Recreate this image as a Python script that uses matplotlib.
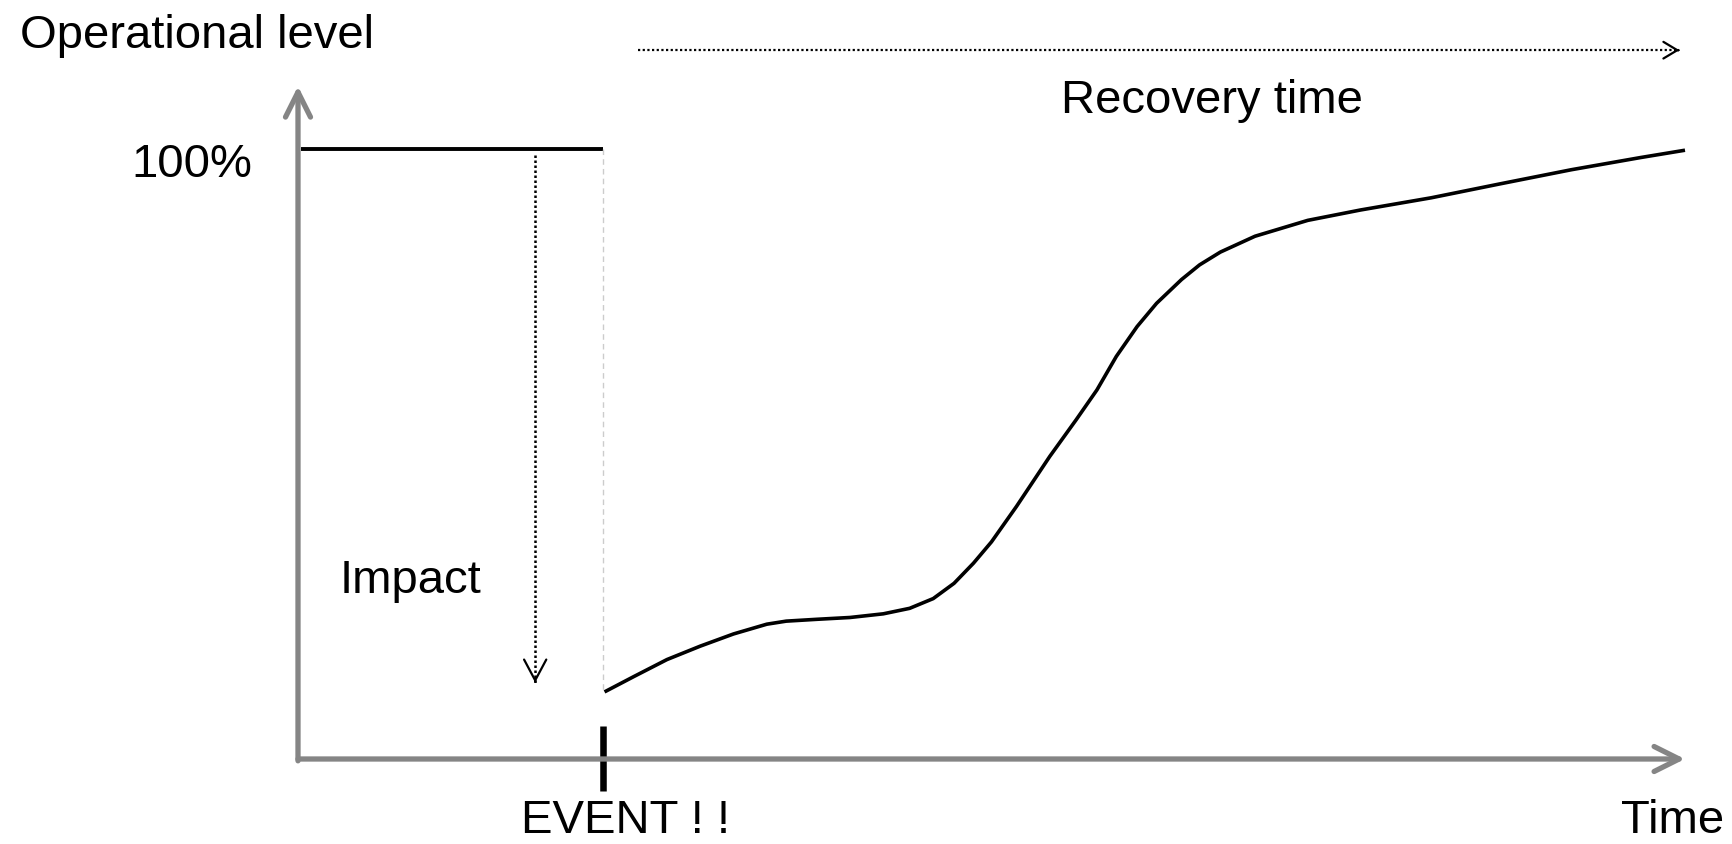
import matplotlib
matplotlib.use("Agg")
import matplotlib.pyplot as plt

plt.rcParams['font.family'] = ['Liberation Sans', 'DejaVu Sans']

# --- data (time in arbitrary units, operational level in %) ---
event_time = 2.2
full_level = 100

# level before the event
before_time = [0.02, event_time]
before_level = [full_level, full_level]

# recovery curve after the event
recovery_time = [2.21, 2.42, 2.66, 2.90, 3.14, 3.38, 3.52, 3.74, 3.98, 4.22, 4.41,
                 4.58, 4.73, 4.87, 5.00, 5.18, 5.42, 5.61, 5.76, 5.90, 6.05, 6.19,
                 6.37, 6.50, 6.65, 6.90, 7.28, 7.66, 8.17, 8.67, 9.18, 9.68, 10.0]
recovery_level = [11.0, 13.5, 16.3, 18.5, 20.5, 22.1, 22.6, 22.9, 23.2, 23.8, 24.7,
                  26.3, 28.8, 32.1, 35.6, 41.4, 49.6, 55.6, 60.5, 66.0, 70.9, 74.7,
                  78.6, 81.0, 83.1, 85.7, 88.3, 90.0, 92.0, 94.3, 96.6, 98.6, 99.8]

# annotation arrows
impact_time = 1.71
impact_from, impact_to = 99.0, 12.5
recovery_arrow_level = 116.2
recovery_arrow_start, recovery_arrow_end = 2.45, 9.96

axis_color = '#858585'

fig = plt.figure(figsize=(17.33, 8.44), dpi=100)
ax = fig.add_axes([0, 0, 1, 1])
ax.set_xlim(-298 / 138.7, (1733 - 298) / 138.7)
ax.set_ylim(-(844 - 759) / 6.1, 759 / 6.1)
ax.axis('off')

# axes with open arrow heads
axis_arrow = dict(arrowstyle='->,head_length=0.9,head_width=0.45', lw=3.8,
                  color=axis_color, mutation_scale=20, shrinkA=0, shrinkB=0,
                  capstyle='round', joinstyle='round')
ax.annotate('', xy=(0, 110.3), xytext=(0, -0.3), arrowprops=axis_arrow)
ax.annotate('', xy=(10.0, 0), xytext=(0.0, 0), arrowprops=axis_arrow)

# 100% level and the drop
ax.plot(before_time, before_level, color='black', lw=2.8, solid_capstyle='butt')
ax.plot([event_time, event_time], [full_level, recovery_level[0]], color='#cccccc',
        lw=1, linestyle=(0, (4, 3)))
ax.plot(recovery_time, recovery_level, color='black', lw=2.6,
        solid_capstyle='butt', solid_joinstyle='round')

# event tick
ax.plot([event_time, event_time], [5.4, -5.2], color='black', lw=4.7, solid_capstyle='butt')

# impact arrow (dotted line, solid open head)
ax.plot([impact_time, impact_time], [impact_from, impact_to], color='black', lw=1.8,
        linestyle=(0, (1, 1)))
head = dict(arrowstyle='->,head_length=0.75,head_width=0.4', lw=1.6, color='black',
            mutation_scale=20, shrinkA=0, shrinkB=0)
ax.annotate('', xy=(impact_time, impact_to), xytext=(impact_time, impact_to + 0.3),
            arrowprops=head)

# recovery time arrow
ax.plot([recovery_arrow_start, recovery_arrow_end], [recovery_arrow_level] * 2,
        color='black', lw=1.6, linestyle=(0, (1, 1.1)))
head2 = dict(arrowstyle='->,head_length=0.5,head_width=0.3', lw=1.6, color='black',
             mutation_scale=20, shrinkA=0, shrinkB=0)
ax.annotate('', xy=(recovery_arrow_end, recovery_arrow_level),
            xytext=(recovery_arrow_end - 0.01, recovery_arrow_level), arrowprops=head2)

# labels
fs = 34
ax.text(-2.004, 116.5, 'Operational level', fontsize=fs, ha='left', va='baseline')
ax.text(-0.332, 95.4, '100%', fontsize=fs, ha='right', va='baseline')
ax.text(5.50, 105.9, 'Recovery time', fontsize=fs, ha='left', va='baseline')
ax.text(0.303, 27.2, 'Impact', fontsize=fs, ha='left', va='baseline')
ax.text(1.605, -12.1, 'EVENT ! !', fontsize=fs, ha='left', va='baseline')
ax.text(9.54, -12.1, 'Time', fontsize=fs, ha='left', va='baseline')

fig.savefig('out.png', dpi=100)
